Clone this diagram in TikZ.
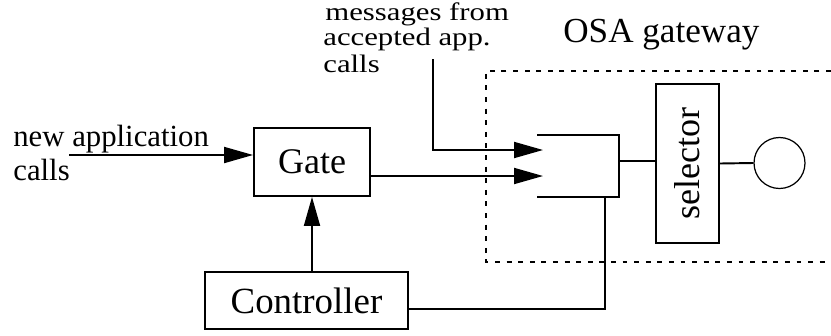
\documentclass[tikz,border=0pt]{standalone}
\usepackage{fontspec}
\setmainfont{Liberation Serif}
\usepackage{graphicx}
\usepackage{tikz}
\usetikzlibrary{arrows.meta,calc}
\tikzset{
	box/.style={draw, line width=1.1pt, inner sep=0pt},
	conn/.style={line width=1.1pt},
	arr/.style={conn, -{Triangle[length=0.58cm, width=0.32cm]}},
	lbl/.style={inner sep=0pt, anchor=base west}
}
\newcommand{\txtsize}[1]{\fontsize{#1}{#1}\selectfont}
\newcommand{\squeezed}[1]{\scalebox{1}[0.82]{\txtsize{17.5}#1}}

\begin{document}
\begin{tikzpicture}[x=0.02cm, y=-0.02cm]
		%%%%% START %%%%%
		\useasboundingbox (0, 0) rectangle (831, 335);
		
		% gateway frame, open on the right
		\draw[line width=1.1pt, dash pattern=on 2.8pt off 3.8pt] (831, 71) -- (486, 71) -- (486, 262) -- (831, 262);
		\node[lbl] (osa) at (563, 42) {\txtsize{20}OSA gateway};
		
		\node[box, minimum width=2.32cm, minimum height=1.36cm] (gate) at (312, 162) {\txtsize{20.5}Gate};
		\node[box, minimum width=4.06cm, minimum height=1.14cm] (ctrl) at (306.5, 300.5) {\txtsize{21}Controller};
		\node[box, rotate=90, minimum width=3.18cm, minimum height=1.26cm] (sel) at (687.5, 163.5) {\txtsize{20.5}selector};
		\node[draw, circle, line width=0.7pt, minimum size=1.02cm, inner sep=0pt] (out) at (779.5, 163) {};
		
		% input stage
		\coordinate (cnw) at (537, 135);
		\coordinate (cne) at (619, 135);
		\coordinate (cse) at (619, 197);
		\coordinate (csw) at (537, 197);
		\draw[conn] (cnw) -- (cne) -- (cse) -- (csw);
		\coordinate (in1) at (543, 150);
		\coordinate (in2) at (543, 176);
		\coordinate (cout) at (619, 161);
		\coordinate (cin) at (605, 197);
		
		% labels
		\node[lbl] (newA) at (13, 146) {\txtsize{17.5}new application};
		\node[lbl] (newB) at (13, 180) {\txtsize{17.5}calls};
		\coordinate (newin) at (69, 155);
		\node[lbl] (msgA) at (325, 20) {\squeezed{messages from}};
		\node[lbl] (msgB) at (323, 45) {\squeezed{accepted app.}};
		\node[lbl] (msgC) at (323, 72) {\squeezed{calls}};
		\coordinate (msgtop) at (433, 59);
		
		% connectors
		\draw[arr] (newin) -- (newin -| gate.west);
		\draw[arr] (ctrl.north -| gate.south) -- (gate.south);
		\draw[arr] (gate.east |- in2) -- (in2);
		\draw[arr] (msgtop) |- (in1);
		\draw[conn] (cout) -- (cout -| sel.north);
		\draw[conn] (sel.south) -- (out.west);
		\draw[conn] ($(ctrl.east)+(0, 8.5)$) -| (cin);
		%%%%% END %%%%%
\end{tikzpicture}
\end{document}
